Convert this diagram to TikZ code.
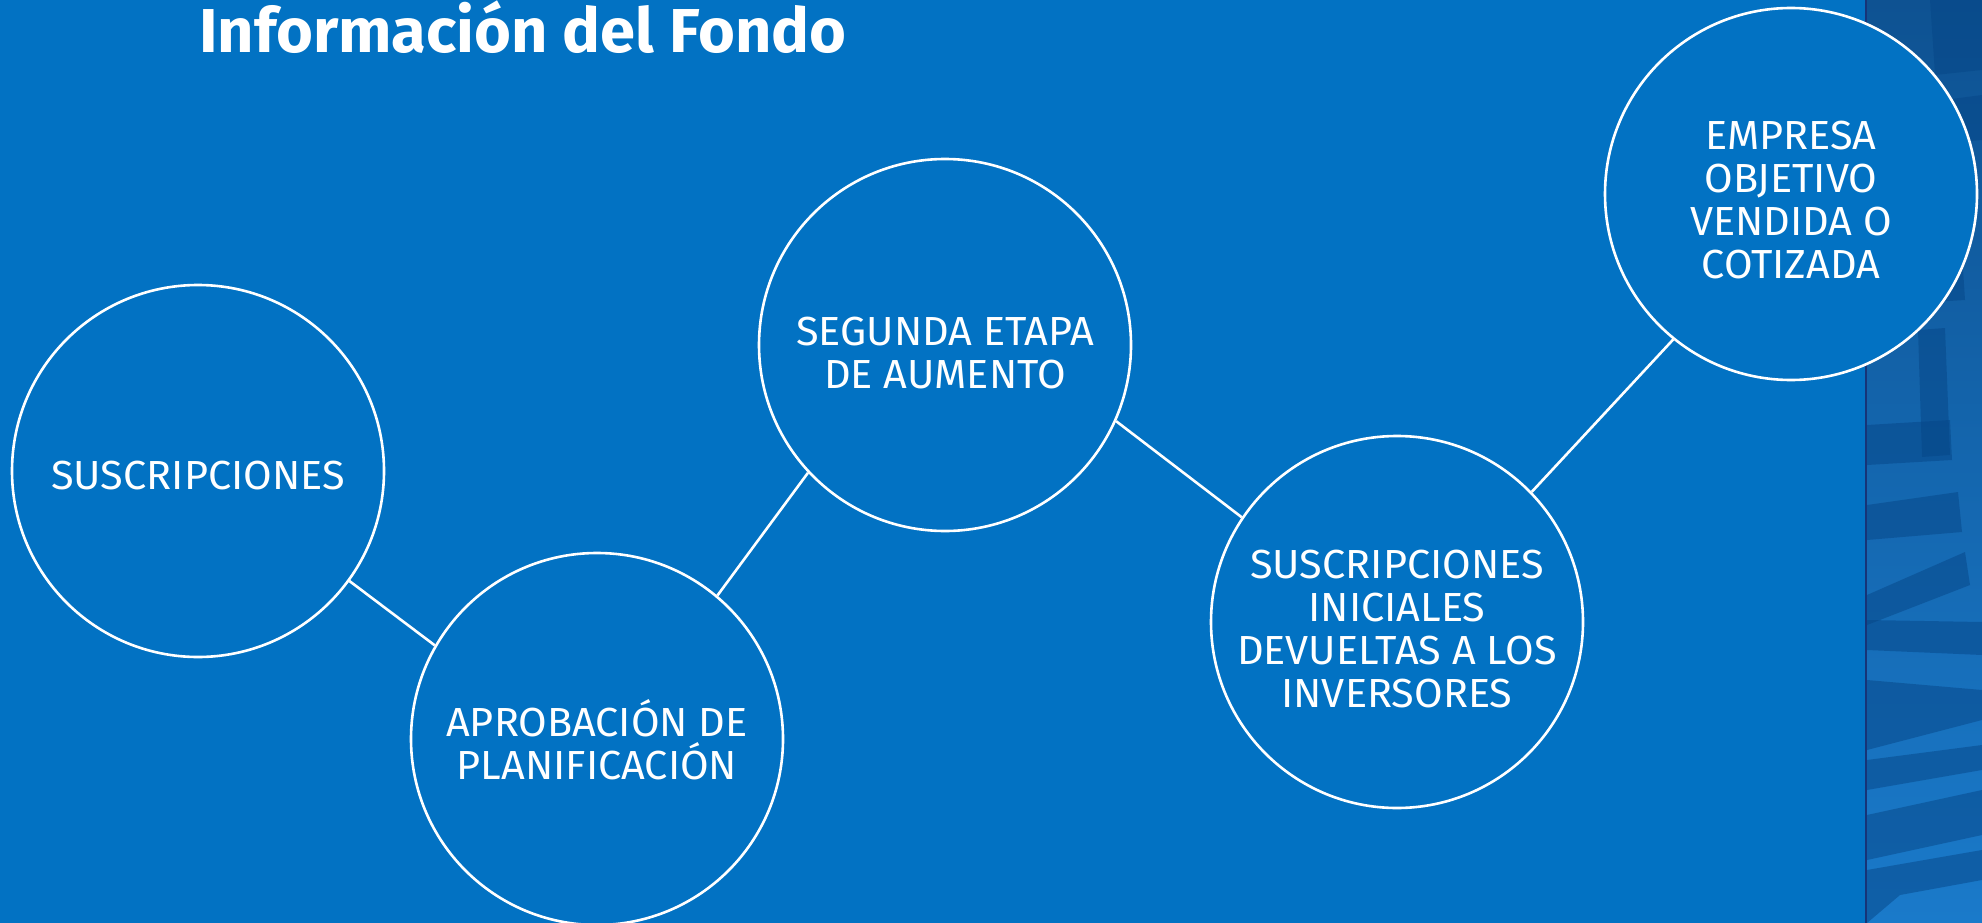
\documentclass[tikz,border=0pt]{standalone}
\usepackage{fontspec}
\setmainfont{Fira Sans}
\newfontfamily\bodyfont[FakeStretch=1.02]{Fira Sans}
\newfontfamily\titlefont[FakeStretch=1.02]{Fira Sans Bold}
\definecolor{bg}{RGB}{2,114,195}
\definecolor{stripline}{RGB}{22,52,120}
\definecolor{striptop}{RGB}{14,82,146}
\definecolor{stripbot}{RGB}{26,122,202}
\definecolor{stripdark}{RGB}{6,70,135}
\tikzset{
  stage/.style={circle, draw=white, fill=bg, line width=2.6pt, minimum size=372pt, inner sep=0pt},
  stagetext/.style={text=white, align=center, inner sep=0pt, font=\bodyfont\fontsize{40.6}{42.7}\selectfont},
  link/.style={draw=white, line width=2.6pt},
  glyph/.style={fill=stripdark, opacity=0.5},
}
\begin{document}
\begin{tikzpicture}[x=1pt,y=-1pt]
\useasboundingbox (0,0) rectangle (1982,923);
\fill[bg] (0,0) rectangle (1982,923);
\shade[top color=striptop, bottom color=stripbot] (1866,0) rectangle (1982,923);
\begin{scope}
\clip (1867,0) rectangle (1982,923);
\fill[glyph] (1930,0) -- (1982,0) -- (1982,70) -- (1935,75) -- cycle;
\fill[glyph] (1867,110) -- (1982,95) -- (1982,140) -- (1867,150) -- cycle;
\fill[glyph] (1880,230) -- (1960,222) -- (1965,300) -- (1885,305) -- cycle;
\fill[glyph] (1918,330) -- (1945,328) -- (1950,455) -- (1922,457) -- cycle;
\fill[glyph] (1867,425) -- (1950,420) -- (1952,460) -- (1867,465) -- cycle;
\fill[glyph] (1867,505) -- (1958,492) -- (1962,532) -- (1867,540) -- cycle;
\fill[glyph] (1867,595) -- (1965,552) -- (1970,585) -- (1867,625) -- cycle;
\fill[glyph] (1867,620) -- (1982,622) -- (1982,655) -- (1867,650) -- cycle;
\fill[glyph] (1867,680) -- (1982,690) -- (1982,720) -- (1867,750) -- cycle;
\fill[glyph] (1867,760) -- (1982,745) -- (1982,770) -- (1867,790) -- cycle;
\fill[glyph] (1867,815) -- (1982,790) -- (1982,835) -- (1867,860) -- cycle;
\fill[glyph] (1867,870) -- (1982,850) -- (1982,880) -- (1900,895) -- (1867,923) -- cycle;
\end{scope}
\draw[stripline, line width=2pt] (1866,0) -- (1866,923);

\node[anchor=base west, inner sep=0pt, text=white, font=\titlefont\fontsize{62}{70}\selectfont] (title) at (199,53) {Información del Fondo};

\node[stage] (c1) at (198,471) {};
\node[stage] (c2) at (597,739) {};
\node[stage] (c3) at (945,345) {};
\node[stage] (c4) at (1397,622) {};
\node[stage] (c5) at (1791,194) {};

\draw[link] (c1.-36.7) -- (c2.150.1);
\draw[link] (c2.50.8) -- (c3.-137.2);
\draw[link] (c3.-24.6) -- (c4.146.1);
\draw[link] (c4.44.6) -- (c5.-129.6);

\node[stagetext] (t1) at ([yshift=-5pt]c1) {SUSCRIPCIONES};
\node[stagetext] (t2) at ([yshift=-1pt]c2) {APROBACIÓN DE\\PLANIFICACIÓN};
\node[stagetext] (t3) at ([yshift=-8pt]c3) {SEGUNDA ETAPA\\DE AUMENTO};
\node[stagetext] (t4) at ([yshift=-7pt]c4) {SUSCRIPCIONES\\INICIALES\\DEVUELTAS A LOS\\INVERSORES};
\node[stagetext] (t5) at ([yshift=-6pt]c5) {EMPRESA\\OBJETIVO\\VENDIDA O\\COTIZADA};
\end{tikzpicture}
\end{document}
